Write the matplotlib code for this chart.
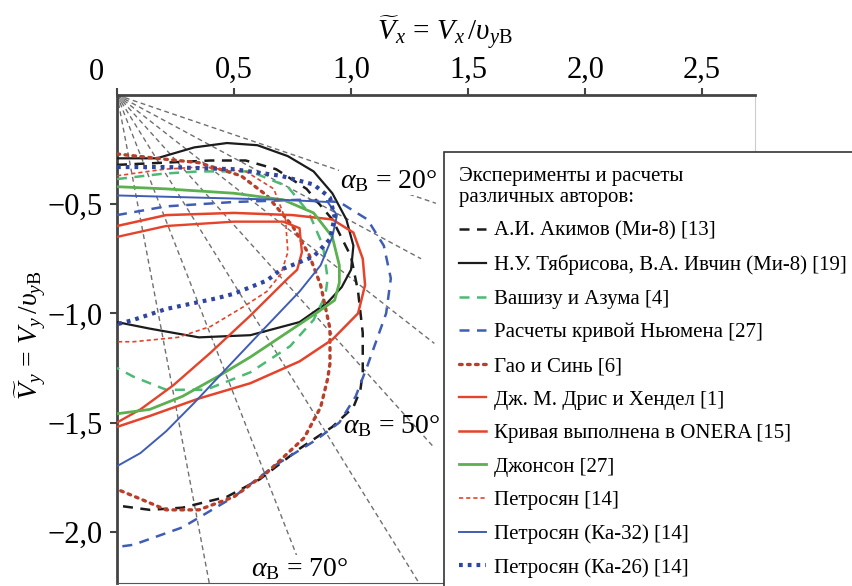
import numpy as np
import matplotlib
matplotlib.use('Agg')
import matplotlib.pyplot as plt
from matplotlib.lines import Line2D
from matplotlib.patches import Arc

plt.rcParams['font.family'] = ['Liberation Serif', 'DejaVu Serif']
plt.rcParams['mathtext.fontset'] = 'custom'
plt.rcParams['mathtext.rm'] = 'Liberation Serif'
plt.rcParams['mathtext.it'] = 'Liberation Serif:italic'
plt.rcParams['mathtext.bf'] = 'Liberation Serif:bold'

# curves (Vx, Vy)
akimov_x = [0, 0.2, 0.4, 0.55, 0.68, 0.81, 0.92, 1.0, 1.03, 1.05, 1.05, 1.04, 1.01, 0.92, 0.78, 0.61, 0.47, 0.28, 0.14, 0.0]
akimov_y = [-0.32, -0.31, -0.30, -0.30, -0.34, -0.43, -0.57, -0.74, -0.90, -1.09, -1.27, -1.35, -1.43, -1.52, -1.62, -1.76, -1.84, -1.89, -1.90, -1.88]

tyabr_x = [0, 0.17, 0.33, 0.47, 0.60, 0.73, 0.84, 0.92, 0.98, 1.01, 1.0, 0.96, 0.90, 0.78, 0.57, 0.35, 0.14, 0]
tyabr_y = [-0.29, -0.29, -0.24, -0.22, -0.23, -0.28, -0.35, -0.45, -0.57, -0.69, -0.80, -0.88, -0.95, -1.04, -1.10, -1.11, -1.07, -1.04]

washizu_x = [0, 0.2, 0.35, 0.57, 0.73, 0.82, 0.88, 0.90, 0.89, 0.84, 0.74, 0.57, 0.38, 0.21, 0.07, 0]
washizu_y = [-0.385, -0.36, -0.35, -0.35, -0.42, -0.54, -0.69, -0.84, -0.92, -1.03, -1.15, -1.27, -1.35, -1.35, -1.29, -1.25]

newman_x = [0, 0.21, 0.5, 0.78, 0.95, 1.07, 1.14, 1.17, 1.15, 1.11, 1.07, 1.02, 0.95, 0.85, 0.67, 0.50, 0.28, 0.07, 0]
newman_y = [-0.55, -0.51, -0.49, -0.48, -0.49, -0.57, -0.69, -0.84, -1.0, -1.12, -1.24, -1.38, -1.50, -1.58, -1.70, -1.84, -1.98, -2.06, -2.07]

gao_x = [0, 0.17, 0.35, 0.53, 0.64, 0.75, 0.82, 0.87, 0.91, 0.91, 0.90, 0.87, 0.80, 0.64, 0.50, 0.35, 0.21, 0.10, 0.01]
gao_y = [-0.27, -0.29, -0.31, -0.37, -0.46, -0.60, -0.73, -0.87, -1.07, -1.23, -1.30, -1.43, -1.57, -1.73, -1.84, -1.90, -1.90, -1.85, -1.81]

dris_x = [0, 0.21, 0.5, 0.71, 0.78, 0.79, 0.77, 0.73, 0.57, 0.40, 0.24, 0.10, 0]
dris_y = [-0.65, -0.60, -0.58, -0.58, -0.61, -0.72, -0.80, -0.84, -1.01, -1.18, -1.33, -1.44, -1.50]

onera_x = [0, 0.21, 0.5, 0.75, 0.92, 1.01, 1.05, 1.06, 1.03, 0.92, 0.78, 0.57, 0.35, 0.14, 0]
onera_y = [-0.60, -0.55, -0.54, -0.55, -0.57, -0.63, -0.75, -0.87, -1.0, -1.12, -1.22, -1.32, -1.39, -1.47, -1.52]

johnson_x = [0, 0.21, 0.50, 0.71, 0.84, 0.92, 0.95, 0.95, 0.93, 0.85, 0.71, 0.57, 0.43, 0.28, 0.14, 0]
johnson_y = [-0.42, -0.43, -0.45, -0.48, -0.54, -0.65, -0.78, -0.86, -0.94, -1.0, -1.10, -1.20, -1.29, -1.38, -1.44, -1.46]

petr_x = [0, 0.2, 0.35, 0.55, 0.67, 0.72, 0.73, 0.70, 0.64, 0.54, 0.40, 0.26, 0.07, 0]
petr_y = [-0.37, -0.34, -0.33, -0.35, -0.43, -0.57, -0.72, -0.82, -0.90, -0.97, -1.06, -1.11, -1.13, -1.13]

ka32_x = [0, 0.35, 0.71, 0.90, 0.94, 0.92, 0.87, 0.78, 0.62, 0.47, 0.33, 0.21, 0.10, 0]
ka32_y = [-0.46, -0.47, -0.48, -0.49, -0.55, -0.65, -0.78, -0.90, -1.08, -1.25, -1.41, -1.54, -1.64, -1.70]

ka26_x = [0, 0.21, 0.50, 0.70, 0.84, 0.91, 0.93, 0.91, 0.84, 0.70, 0.64, 0.50, 0.43, 0.21, 0.07, 0]
ka26_y = [-0.33, -0.33, -0.34, -0.37, -0.41, -0.47, -0.56, -0.66, -0.74, -0.80, -0.85, -0.91, -0.93, -0.98, -1.03, -1.05]

# radial guide lines: angle (deg) and length
ray_angles = [20, 30, 40, 50, 60, 70, 80]
ray_lengths = [1.45, 1.5, 1.77, 2.1, 3.0, 3.0, 3.0]

labels = ['А.И. Акимов (Ми-8) [13]',
          'Н.У. Тябрисова, В.А. Ивчин (Ми-8) [19]',
          'Вашизу и Азума [4]',
          'Расчеты кривой Ньюмена [27]',
          'Гао и Синь [6]',
          'Дж. М. Дрис и Хендел [1]',
          'Кривая выполнена в ONERA [15]',
          'Джонсон [27]',
          'Петросян [14]',
          'Петросян (Ка-32) [14]',
          'Петросян (Ка-26) [14]']

fig = plt.figure(figsize=(8.53, 5.86), dpi=100)
ax = fig.add_axes([117/853, 3/586, 638/853, 488/586])

for a, r in zip(ray_angles, ray_lengths):
    t = np.deg2rad(a)
    ax.plot([0, r*np.cos(t)], [0, -r*np.sin(t)], color='#707070', lw=1.0,
            dashes=(3.5, 2.5), zorder=1)
ax.add_patch(Arc((0, 0), 0.06, 0.06, theta1=270, theta2=350, color='#999999', lw=2.5))

black = '#1c1c1c'
red = '#e5432a'
brown = '#b8402a'
green = '#5bb04f'
green2 = '#4dba73'
blue = '#3f5db4'
blue_dot = '#2f45a0'

styles = [
    dict(color=black, lw=1.8, dashes=(4, 3)),
    dict(color=black, lw=1.6, ls='-'),
    dict(color=green2, lw=1.8, dashes=(4, 3)),
    dict(color=blue, lw=1.8, dashes=(4, 3)),
    dict(color=brown, lw=2.4, dashes=(0.8, 1.6), dash_capstyle='round'),
    dict(color=red, lw=1.7, ls='-'),
    dict(color=red, lw=1.8, ls='-'),
    dict(color=green, lw=2.0, ls='-'),
    dict(color=red, lw=1.2, dashes=(2.5, 1.8)),
    dict(color=blue, lw=1.4, ls='-'),
    dict(color=blue_dot, lw=3.0, dashes=(0.9, 1.2)),
]

series = [(akimov_x, akimov_y), (tyabr_x, tyabr_y), (washizu_x, washizu_y),
          (newman_x, newman_y), (gao_x, gao_y), (dris_x, dris_y),
          (onera_x, onera_y), (johnson_x, johnson_y), (petr_x, petr_y),
          (ka32_x, ka32_y), (ka26_x, ka26_y)]

for (sx, sy), st in zip(series, styles):
    ax.plot(sx, sy, zorder=3, solid_joinstyle='round', **st)

ax.set_xlim(0, 2.726)
ax.set_ylim(-2.235, 0)

ax.xaxis.tick_top()
ax.set_xticks([0, 0.5, 1.0, 1.5, 2.0, 2.5])
ax.set_xticklabels(['', '0,5', '1,0', '1,5', '2,0', '2,5'])
ax.set_yticks([-0.5, -1.0, -1.5, -2.0])
ax.set_yticklabels(['\u22120,5', '\u22121,0', '\u22121,5', '\u22122,0'])
ax.tick_params(axis='x', direction='out', length=5, width=1.5, color='#444444',
               labelsize=22, pad=2)
ax.tick_params(axis='y', direction='out', length=5, width=1.5, color='#444444',
               labelsize=22, pad=5)
ax.annotate('0', xy=(0, 0), xycoords='data', xytext=(-15, 6),
            textcoords='offset points', ha='center', va='bottom', fontsize=22,
            annotation_clip=False)

ax.spines['top'].set_color('#444444')
ax.spines['top'].set_linewidth(2)
ax.spines['left'].set_color('#444444')
ax.spines['left'].set_linewidth(2)
ax.spines['right'].set_color('#cccccc')
ax.spines['bottom'].set_color('#555555')

fig.text(445/853, 1 - 33/586, r'$\widetilde{V}_x\,=\,V_x\,/\upsilon_{y\mathrm{В}}$',
         fontsize=21, ha='center', va='center')
fig.text(30/853, 1 - 335/586, r'$\widetilde{V}_y\,=\,V_y\,/\upsilon_{y\mathrm{В}}$',
         fontsize=20, ha='center', va='center', rotation=90)

txt_kw = dict(fontsize=20, ha='center', va='center', zorder=4)
ax.text(1.16, -0.395, r'$\alpha_{\mathrm{В}}$ = 20°',
        bbox=dict(facecolor='white', edgecolor='none', pad=0.5), **txt_kw)
ax.text(1.175, -1.518, r'$\alpha_{\mathrm{В}}$ = 50°', **txt_kw)
ax.text(0.78, -2.17, r'$\alpha_{\mathrm{В}}$ = 70°',
        bbox=dict(facecolor='white', edgecolor='none', pad=0.5), **txt_kw)

handles = [Line2D([], [], **st) for st in styles]

leg = fig.legend(handles, labels, loc='upper left', bbox_to_anchor=(444/853, 1 - 152/586),
                 title='Эксперименты и расчеты\nразличных авторов:',
                 fontsize=15, title_fontsize=15, frameon=True, fancybox=False,
                 edgecolor='#333333', framealpha=1, borderaxespad=0, borderpad=0.7,
                 handlelength=1.3, handletextpad=0.4, labelspacing=0.67,
                 alignment='left')
leg.get_frame().set_linewidth(1.2)

fig.savefig('out.png', dpi=100)
